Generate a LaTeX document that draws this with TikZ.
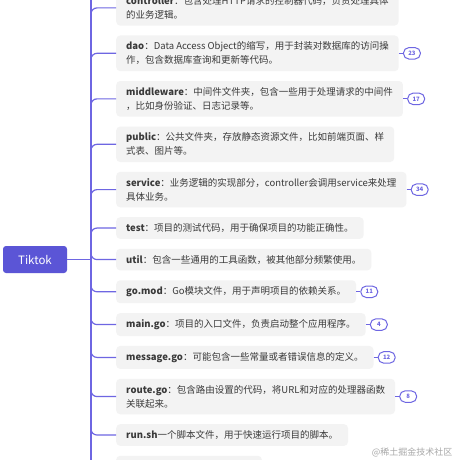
\documentclass[tikz,border=0pt]{standalone}
\usepackage{fontspec}
\setmainfont{Noto Sans CJK SC}
\usetikzlibrary{positioning}
\definecolor{acc}{HTML}{5B55D6}
\definecolor{ln}{HTML}{6E66E2}
\definecolor{lt}{HTML}{F3F3F3}
\definecolor{tx}{HTML}{3A3A3A}
\definecolor{wm}{HTML}{A8A8A8}
\newcommand{\kw}[1]{\textbf{#1}}
\tikzset{
  box/.style={fill=lt,rounded corners=4pt,align=left,inner xsep=10pt,inner ysep=6.3pt,font=\fontsize{9.5}{14}\selectfont,text=tx},
  rootbox/.style={fill=acc,rounded corners=3pt,text=white,minimum width=64pt,minimum height=27pt,font=\fontsize{11.5}{13}\selectfont},
  bdg/.style={draw=ln,line width=1pt,rounded corners=5.5pt,fill=white,text=ln,font=\fontsize{6}{7}\selectfont\bfseries,minimum width=17pt,minimum height=11.5pt,inner sep=0pt},
  br/.style={draw=ln,line width=1.2pt,rounded corners=6pt},
  tie/.style={draw=ln,line width=1pt},
}
\begin{document}
\begin{tikzpicture}
  \clip (0,0) rectangle (460pt,-460pt);
  \fill[white] (0,0) rectangle (460pt,-460pt);
  % root and children
  \node[rootbox] (root) at (35pt,-259.5pt) {Tiktok};
  \node[box,anchor=north west] (ctrl) at (116pt,10pt)
    {\kw{controller}：包含处理HTTP请求的控制器代码，负责处理具体\\的业务逻辑。};
  \node[box,below=9.5pt of ctrl.south west,anchor=north west] (dao)
    {\kw{dao}：Data Access Object的缩写，用于封装对数据库的访问操\\作，包含数据库查询和更新等代码。};
  \node[box,below=9.5pt of dao.south west,anchor=north west] (mw)
    {\kw{middleware}：中间件文件夹，包含一些用于处理请求的中间件\\，比如身份验证、日志记录等。};
  \node[box,below=9.5pt of mw.south west,anchor=north west] (pub)
    {\kw{public}：公共文件夹，存放静态资源文件，比如前端页面、样\\式表、图片等。};
  \node[box,below=9.5pt of pub.south west,anchor=north west] (svc)
    {\kw{service}：业务逻辑的实现部分，controller会调用service来处理\\具体业务。};
  \node[box,below=9.5pt of svc.south west,anchor=north west] (test)
    {\kw{test}：项目的测试代码，用于确保项目的功能正确性。};
  \node[box,below=9.5pt of test.south west,anchor=north west] (util)
    {\kw{util}：包含一些通用的工具函数，被其他部分频繁使用。};
  \node[box,below=9.5pt of util.south west,anchor=north west] (gomod)
    {\kw{go.mod}：Go模块文件，用于声明项目的依赖关系。};
  \node[box,below=9.5pt of gomod.south west,anchor=north west] (main)
    {\kw{main.go}：项目的入口文件，负责启动整个应用程序。};
  \node[box,below=9.5pt of main.south west,anchor=north west] (msg)
    {\kw{message.go}：可能包含一些常量或者错误信息的定义。};
  \node[box,below=9.5pt of msg.south west,anchor=north west] (route)
    {\kw{route.go}：包含路由设置的代码，将URL和对应的处理器函数\\关联起来。};
  \node[box,below=9.5pt of route.south west,anchor=north west] (run)
    {\kw{run.sh}一个脚本文件，用于快速运行项目的脚本。};
  \node[box,below=9.5pt of run.south west,anchor=north west] (tip)
    {• 老师给的代码阅读顺序建议};
  % badges
  \node[bdg,right=4pt of dao.east] (b23) {23};
  \node[bdg,right=4pt of mw.east] (b17) {17};
  \node[bdg,right=4pt of svc.east] (b34) {34};
  \node[bdg,right=4pt of gomod.east] (b11) {11};
  \node[bdg,right=4pt of main.east] (b4) {4};
  \node[bdg,right=4pt of msg.east] (b12) {12};
  \node[bdg,right=4pt of route.east] (b8) {8};
  \foreach \a/\b in {dao/b23,mw/b17,svc/b34,gomod/b11,main/b4,msg/b12,route/b8}
    \draw[tie] (\a.east) -- (\b.west);
  % branches
  \coordinate (hub) at (91pt,-259.5pt);
  \coordinate (up) at (91pt,8pt);
  \coordinate (dn) at (91pt,-470pt);
  \draw[br,line width=1.8pt] (up) -- (dn);
  \draw[br,line width=1.8pt] (root.east) -- (hub);
  \foreach \c in {ctrl,dao,mw,pub,svc,test,util,gomod,main,msg,route,run,tip}
    \draw[br] (hub) |- (\c.west);
  \node[text=wm,font=\fontsize{9}{10}\selectfont,anchor=south east] (mark) at (456pt,-461pt) {@稀土掘金技术社区};
\end{tikzpicture}
\end{document}
